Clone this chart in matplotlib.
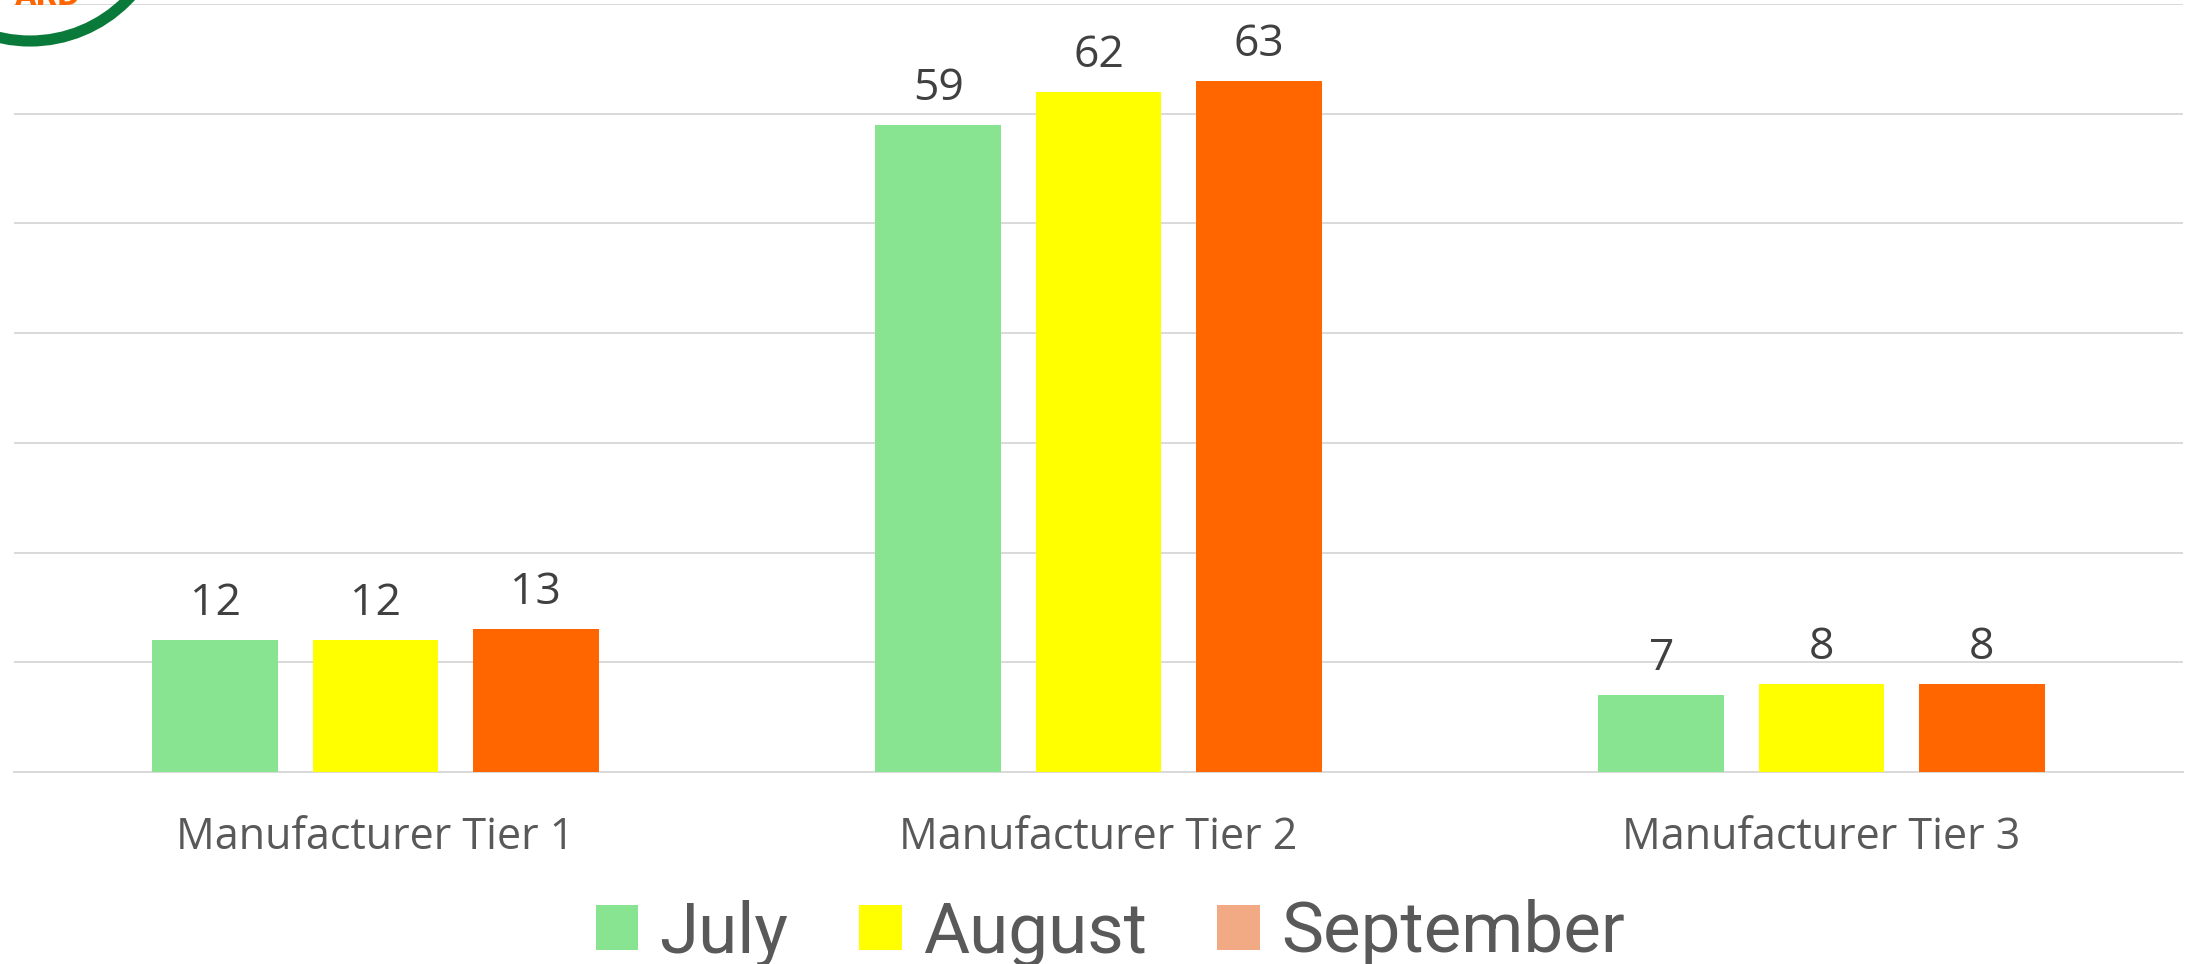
import matplotlib
matplotlib.use("Agg")
import matplotlib.pyplot as plt
import numpy as np
from matplotlib.patches import Arc, Patch

categories = ["Manufacturer Tier 1", "Manufacturer Tier 2", "Manufacturer Tier 3"]
series_names = ["July", "August", "September"]
july = [12, 59, 7]
august = [12, 62, 8]
september = [13, 63, 8]
bar_colors = ["#88E491", "#FFFF00", "#FF6600"]
legend_colors = ["#88E491", "#FFFF00", "#F2AA84"]

W, H = 2190, 964
fig = plt.figure(figsize=(W / 100, H / 100), dpi=100)
ax = fig.add_axes([14 / W, 1 - 772 / H, (2183 - 14) / W, (772 - 4) / H])

x = np.arange(len(categories))
width = 0.174
offset = 0.2216
for i, (vals, col) in enumerate(zip([july, august, september], bar_colors)):
    bars = ax.bar(x + (i - 1) * offset, vals, width, color=col, zorder=3)
    ax.bar_label(bars, padding=10, fontsize=32, color="#404040",
                 family=["Open Sans", "DejaVu Sans"])

ax.set_xlim(-0.5, 2.5)
ax.set_ylim(0, 70)
ax.set_yticks(np.arange(0, 71, 10))
ax.yaxis.grid(True, color="#D9D9D9", linewidth=1.4, zorder=0)
ax.set_axisbelow(True)
ax.tick_params(axis="y", left=False, labelleft=False)
ax.tick_params(axis="x", bottom=False, pad=28)
ax.set_xticks(x)
ax.set_xticklabels(categories, fontsize=31, color="#595959",
                   family=["Open Sans", "DejaVu Sans"])
for s in ["top", "right", "left"]:
    ax.spines[s].set_visible(False)
ax.spines["bottom"].set_color("#D9D9D9")
ax.spines["bottom"].set_linewidth(1.4)

handles = [Patch(facecolor=c, edgecolor="none", label=n)
           for c, n in zip(legend_colors, series_names)]
fig.legend(handles=handles, loc="center", bbox_to_anchor=(0.507, 1 - 933 / H),
           ncol=3, frameon=False,
           prop={"family": ["Roboto", "DejaVu Sans"], "size": 51},
           handlelength=0.6, handleheight=0.6, handletextpad=0.3,
           columnspacing=1.0, labelcolor="#595959", borderaxespad=0)

# logo fragment in the top-left corner
arc = Arc((30 / W, 1 + 95 / H), 272 / W, 272 / H, theta1=180, theta2=360,
          transform=fig.transFigure, color="#0A7A3A", linewidth=8)
fig.add_artist(arc)
fig.text(15 / W, 1 - 5 / H, "ARD", color="#FF6600", fontsize=20,
         fontweight="bold", va="baseline", ha="left")

fig.savefig("out.png", dpi=100)
